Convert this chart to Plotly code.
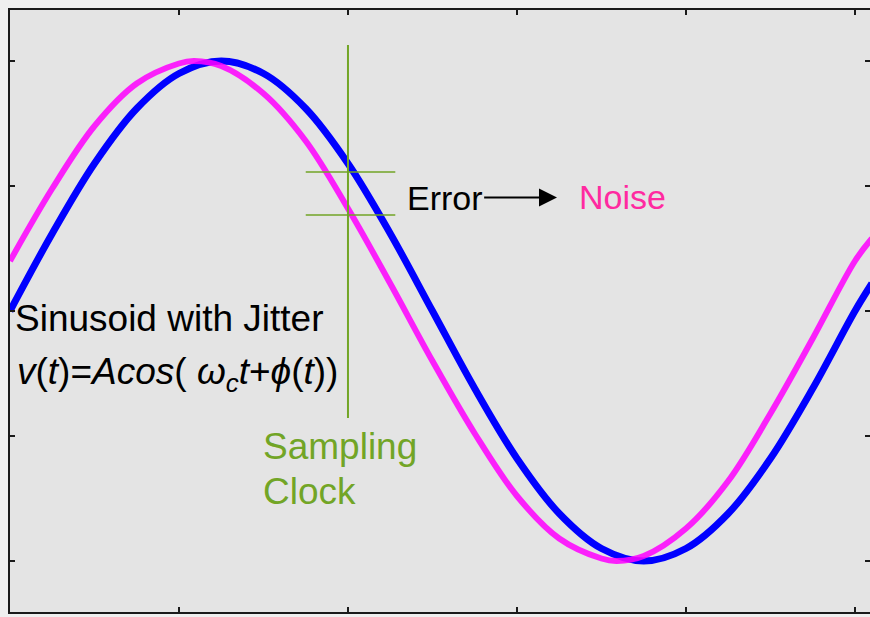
import plotly.graph_objects as go

# Sampled points of the clean sinusoid (blue) and the jittered one (pink)
t_clean = [0.0, 0.25, 0.5, 0.75, 1.0, 1.25, 1.5, 1.75, 2.0, 2.25, 2.5, 2.75,
           3.0, 3.25, 3.5, 3.75, 4.0, 4.25, 4.5, 4.75, 5.0, 5.1]
v_clean = [0.0, 0.31, 0.59, 0.81, 0.95, 1.0, 0.95, 0.81, 0.59, 0.31, 0.0, -0.31,
           -0.59, -0.81, -0.95, -1.0, -0.95, -0.81, -0.59, -0.31, 0.0, 0.11]

t_jit = [0.0, 0.25, 0.5, 0.75, 1.0, 1.09, 1.25, 1.5, 1.75, 2.0, 2.25, 2.5, 2.75,
         3.0, 3.25, 3.5, 3.59, 3.75, 4.0, 4.25, 4.5, 4.75, 5.0, 5.1]
v_jit = [0.20, 0.49, 0.74, 0.91, 0.99, 1.0, 0.98, 0.87, 0.68, 0.41, 0.11, -0.20, -0.49,
         -0.74, -0.91, -0.99, -1.0, -0.98, -0.87, -0.68, -0.41, -0.11, 0.20, 0.29]

x_ticks = [1, 2, 3, 4, 5]
y_ticks = [-1, -0.5, 0, 0.5, 1]

# Sampling instant and the two sampled levels
t_sample = 2.0
sample_levels = [0.556, 0.384]

BLUE = "#0000ff"
PINK = "rgba(255,0,255,0.86)"
GREEN = "#72a526"
FONT = "Liberation Sans, Arial, sans-serif"

fig = go.Figure()
fig.add_trace(go.Scatter(x=t_clean, y=v_clean, mode="lines",
                         line=dict(color=BLUE, width=7, shape="spline"),
                         hoverinfo="skip"))
fig.add_trace(go.Scatter(x=t_jit, y=v_jit, mode="lines",
                         line=dict(color=PINK, width=6, shape="spline"),
                         hoverinfo="skip"))
# empty trace so the right-hand tick axis is drawn
fig.add_trace(go.Scatter(x=[], y=[], yaxis="y2", hoverinfo="skip"))

# sampling clock: vertical marker plus short level lines
fig.add_shape(type="line", x0=t_sample, x1=t_sample, y0=-0.428, y1=1.064,
              line=dict(color=GREEN, width=2))
for lvl in sample_levels:
    fig.add_shape(type="line", x0=t_sample - 0.25, x1=t_sample + 0.28, y0=lvl, y1=lvl,
                  line=dict(color=GREEN, width=1.5))

ann = []
def label(x, y, text, color="#000000", size=34):
    ann.append(dict(x=x, y=y, xref="x", yref="y", text=text, showarrow=False,
                    xanchor="left", yanchor="middle",
                    font=dict(family=FONT, size=size, color=color)))

label(0.02, -0.028, "Sinusoid with Jitter", size=37)
label(0.03, -0.250, "<i>v</i>(<i>t</i>)=<i>A</i><i>cos</i>( <i>ω<sub>c</sub>t</i>+<i>ϕ</i>(<i>t</i>))", size=37)
label(3.355, 0.456, "Noise", color="#ff2aa0")
label(1.485, -0.540, "Sampling", color=GREEN, size=37)
label(1.485, -0.720, "Clock", color=GREEN, size=37)

# "Error" with its arrow pointing towards "Noise"
ann.append(dict(x=3.237, y=0.454, ax=2.572, ay=0.454, xref="x", yref="y",
                axref="x", ayref="y", text="Error", showarrow=True,
                font=dict(family=FONT, size=34, color="#000000"),
                arrowhead=2, arrowsize=1.8, arrowwidth=2, arrowcolor="#000000"))

axis_common = dict(showgrid=False, zeroline=False, showticklabels=False,
                   ticks="inside", ticklen=5, tickwidth=2, tickcolor="#1a1a1a")

fig.update_layout(
    width=870, height=617,
    margin=dict(l=10, r=0, t=10, b=5),
    paper_bgcolor="#efefef",
    plot_bgcolor="#e4e4e4",
    showlegend=False,
    annotations=ann,
    xaxis=dict(range=[0, 5.089], tickvals=x_ticks, showline=True, linewidth=2,
               linecolor="#1a1a1a", mirror="ticks", **axis_common),
    yaxis=dict(range=[-1.204, 1.204], tickvals=y_ticks, showline=True, linewidth=2,
               linecolor="#1a1a1a", mirror=False, **axis_common),
    yaxis2=dict(range=[-1.204, 1.204], tickvals=y_ticks, overlaying="y", side="right",
                showline=False, **axis_common),
)

fig.write_html("out.html")
